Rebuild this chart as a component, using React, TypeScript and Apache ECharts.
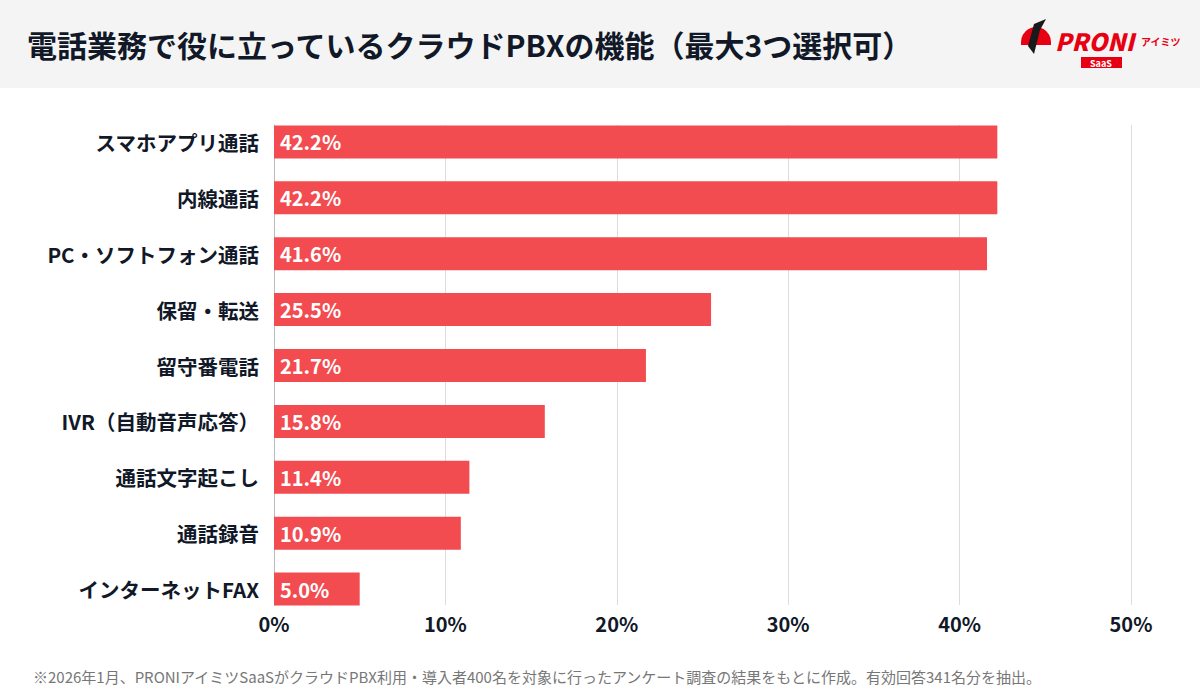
import React, { useEffect, useRef } from "react";
import * as echarts from "echarts";

const categories = [
  "スマホアプリ通話",
  "内線通話",
  "PC・ソフトフォン通話",
  "保留・転送",
  "留守番電話",
  "IVR（自動音声応答）",
  "通話文字起こし",
  "通話録音",
  "インターネットFAX",
];
const values = [42.2, 42.2, 41.6, 25.5, 21.7, 15.8, 11.4, 10.9, 5.0];
const xTicks = [0, 10, 20, 30, 40, 50];

const title = "電話業務で役に立っているクラウドPBXの機能（最大3つ選択可）";
const footnote =
  "※2026年1月、PRONIアイミツSaaSがクラウドPBX利用・導入者400名を対象に行ったアンケート調査の結果をもとに作成。有効回答341名分を抽出。";

const FONT = "'Noto Sans CJK JP', 'Noto Sans', sans-serif";
const RED = "#F24C51";
const DARK = "#111827";

export default function App() {
  const ref = useRef<HTMLDivElement>(null);
  useEffect(() => {
    if (!ref.current) return;
    const chart = echarts.init(ref.current, null, { renderer: "svg" });
    chart.setOption({
      animation: false,
      backgroundColor: "#ffffff",
      textStyle: { fontFamily: FONT },
      graphic: [
        { type: "rect", left: 0, top: 0, shape: { width: 1200, height: 88 }, style: { fill: "#f4f4f4" }, z: -1 },
        {
          type: "text",
          left: 27,
          top: 29,
          style: { text: title, font: `bold 30px ${FONT}`, fill: DARK },
        },
        // logo
        { type: "circle", shape: { cx: 1036, cy: 42, r: 15 }, style: { fill: "#e60012" } },
        { type: "rect", shape: { x: 1018, y: 42, width: 36, height: 16 }, style: { fill: "#f4f4f4" } },
        { type: "rect", shape: { x: 1021, y: 42, width: 30, height: 3 }, style: { fill: "#e60012" } },
        { type: "polygon", shape: { points: [[1034, 24], [1046, 19], [1040, 30], [1034, 54], [1028, 46]] }, style: { fill: "#1a1a1a" } },
        {
          type: "text",
          left: 1055,
          top: 28,
          style: { text: "PRONI", font: `italic 900 24px ${FONT}`, lineHeight: 24, fill: "#e60012" },
        },
        {
          type: "text",
          left: 1141,
          top: 36,
          style: { text: "アイミツ", font: `bold 10px ${FONT}`, fill: "#e60012" },
        },
        { type: "rect", shape: { x: 1081, y: 57, width: 41, height: 11 }, style: { fill: "#e60012" } },
        {
          type: "text",
          left: 1090,
          top: 58,
          style: { text: "SaaS", font: `bold 9px ${FONT}`, lineHeight: 10, fill: "#ffffff" },
        },
        {
          type: "text",
          left: 33,
          top: 669,
          style: { text: footnote, font: `15px ${FONT}`, fill: "#777777" },
        },
      ],
      grid: [
        { left: 274, right: 69, top: 114, bottom: 83, containLabel: false },
        { left: 274, right: 69, top: 125, bottom: 95, containLabel: false },
      ],
      xAxis: [
        {
          type: "value",
          gridIndex: 0,
          min: 0,
          max: 50,
          interval: 10,
          axisLine: { show: false },
          axisTick: { show: false },
          splitLine: { show: false },
          axisLabel: { show: false },
        },
        {
          type: "value",
          gridIndex: 1,
          min: 0,
          max: 50,
          interval: 10,
          axisLine: { show: false },
          axisTick: { show: false },
          splitLine: { show: true, lineStyle: { color: "#dddddd", width: 1 } },
          axisLabel: {
            formatter: (v: number) => (xTicks.includes(v) ? `${v}%` : ""),
            fontFamily: FONT,
            fontWeight: "bold",
            fontSize: 20,
            color: DARK,
            margin: 8,
          },
        },
      ],
      yAxis: [
        {
          type: "category",
          gridIndex: 0,
          data: categories,
          inverse: true,
          axisLine: { show: false },
          axisTick: { show: false },
          axisLabel: {
            fontFamily: FONT,
            fontWeight: "bold",
            fontSize: 20.5,
            color: DARK,
            margin: 15,
          },
        },
        {
          type: "value",
          gridIndex: 1,
          min: 0,
          max: 1,
          axisLine: { show: true, onZero: false, lineStyle: { color: "#bbbbbb", width: 1 } },
          axisTick: { show: false },
          splitLine: { show: false },
          axisLabel: { show: false },
        },
      ],
      series: [
        {
          type: "bar",
          xAxisIndex: 0,
          yAxisIndex: 0,
          data: values,
          barWidth: 33,
          z: 3,
          itemStyle: { color: RED },
          label: {
            show: true,
            position: "insideLeft",
            distance: 6,
            formatter: (p: any) => `${p.value.toFixed(1)}%`,
            fontFamily: FONT,
            fontWeight: "bold",
            fontSize: 20,
            color: "#ffffff",
          },
        },
      ],
    });
    return () => chart.dispose();
  }, []);
  return <div ref={ref} style={{ width: 1200, height: 700, position: "absolute", left: 0, top: 0 }} />;
}
